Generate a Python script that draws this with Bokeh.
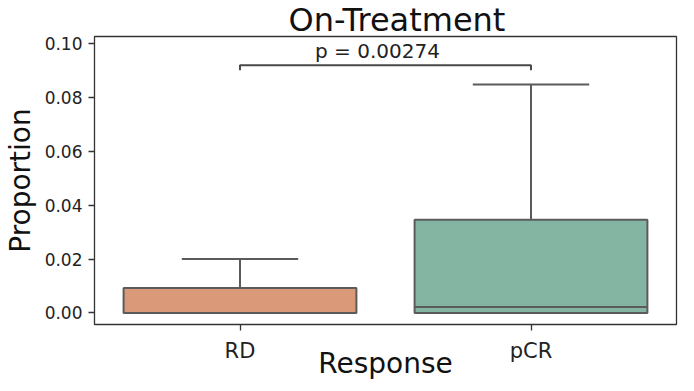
import numpy as np
from bokeh.plotting import figure
from bokeh.models import ColumnDataSource, Range1d, FixedTicker, PrintfTickFormatter
from bokeh.embed import file_html
from bokeh.resources import INLINE
from bokeh.core.properties import value

# ---- data ----
categories = ["RD", "pCR"]
q1 = [0.0, 0.0]
medians = [0.0, 0.0022]
q3 = [0.0093, 0.0346]
whisker_low = [0.0, 0.0]
whisker_high = [0.0200, 0.0849]
y_ticks = [0.00, 0.02, 0.04, 0.06, 0.08, 0.10]
bracket_y = 0.0920
bracket_tip_y = 0.0902
p_label = "p = 0.00274"
title_text = "On-Treatment"
x_label = "Response"
y_label = "Proportion"

box_colors = ["#DA9A79", "#84B5A2"]
line_col = "#5b5b5b"
FONT = "DejaVu Sans"

pos = np.arange(len(categories), dtype=float)
box_w = 0.8
cap_w = 0.4

src = ColumnDataSource(dict(
    x=pos, q1=q1, q3=q3, med=medians, lo=whisker_low, hi=whisker_high,
    xl_box=pos - box_w / 2, xr_box=pos + box_w / 2,
    xl_cap=pos - cap_w / 2, xr_cap=pos + cap_w / 2,
    color=box_colors,
))

x_range = Range1d(-0.5, 1.5)
y_range = Range1d(-0.0043, 0.1027)
p = figure(width=686, height=383, x_range=x_range, y_range=y_range,
           output_backend="svg", toolbar_location=None,
           min_border_left=85, min_border_right=10,
           min_border_top=20, min_border_bottom=59)

p.background_fill_color = "white"
p.border_fill_color = "white"
p.xgrid.visible = False
p.ygrid.visible = False
p.outline_line_color = "#333333"
p.outline_line_width = 1.3

p.segment(x0="x", y0="q3", x1="x", y1="hi", source=src, line_color=line_col, line_width=2)
p.segment(x0="x", y0="q1", x1="x", y1="lo", source=src, line_color=line_col, line_width=2)
p.segment(x0="xl_cap", y0="hi", x1="xr_cap", y1="hi", source=src, line_color=line_col, line_width=2)
p.segment(x0="xl_cap", y0="lo", x1="xr_cap", y1="lo", source=src, line_color="#9a9a9a", line_width=2)
p.vbar(x="x", width=box_w, bottom="q1", top="q3", source=src,
       fill_color="color", line_color=line_col, line_width=2)
p.segment(x0="xl_box", y0="med", x1="xr_box", y1="med", source=src, line_color=line_col, line_width=2)

bx = [pos[0], pos[0], pos[1], pos[1]]
by = [bracket_tip_y, bracket_y, bracket_y, bracket_tip_y]
p.line(x=bx, y=by, line_color="#4a4a4a", line_width=2)
p.text(x=[pos.mean()], y=[bracket_y], text=[p_label], text_align="center",
       text_baseline="alphabetic", x_offset=-8, y_offset=-14,
       text_font=value(FONT), text_font_size="20px", text_color="#222222")

p.title.text = title_text
p.title.align = "left"
p.title.offset = 194
p.title.standoff = -4
p.title.text_font = FONT
p.title.text_font_size = "32px"
p.title.text_font_style = "normal"
p.title.text_color = "#111111"

p.xaxis.ticker = FixedTicker(ticks=list(pos))
p.xaxis.major_label_overrides = {float(i): c for i, c in zip(pos, categories)}
p.xaxis.major_label_overrides.update({int(i): c for i, c in zip(pos, categories)})
p.yaxis.ticker = FixedTicker(ticks=y_ticks)
p.yaxis.formatter = PrintfTickFormatter(format="%.2f")
p.xaxis.minor_tick_line_color = None
p.yaxis.minor_tick_line_color = None

for ax in (p.xaxis[0], p.yaxis[0]):
    ax.axis_line_color = None
    ax.major_tick_line_color = "#333333"
    ax.major_tick_line_width = 1.3
    ax.major_tick_out = 6
    ax.major_tick_in = 0
    ax.major_label_text_font = FONT
    ax.major_label_text_color = "#222222"
    ax.axis_label_text_font = FONT
    ax.axis_label_text_font_style = "normal"
    ax.axis_label_text_color = "#111111"

p.xaxis.axis_label = x_label
p.yaxis.axis_label = y_label
p.xaxis.major_label_text_font_size = "21px"
p.yaxis.major_label_text_font_size = "17px"
p.xaxis.axis_label_text_font_size = "28px"
p.yaxis.axis_label_text_font_size = "28px"
p.xaxis.major_label_standoff = 8
p.xaxis.axis_label_standoff = -19
p.yaxis.major_label_standoff = 6
p.yaxis.axis_label_standoff = 5

open("out.html", "w").write(file_html(p, INLINE))
